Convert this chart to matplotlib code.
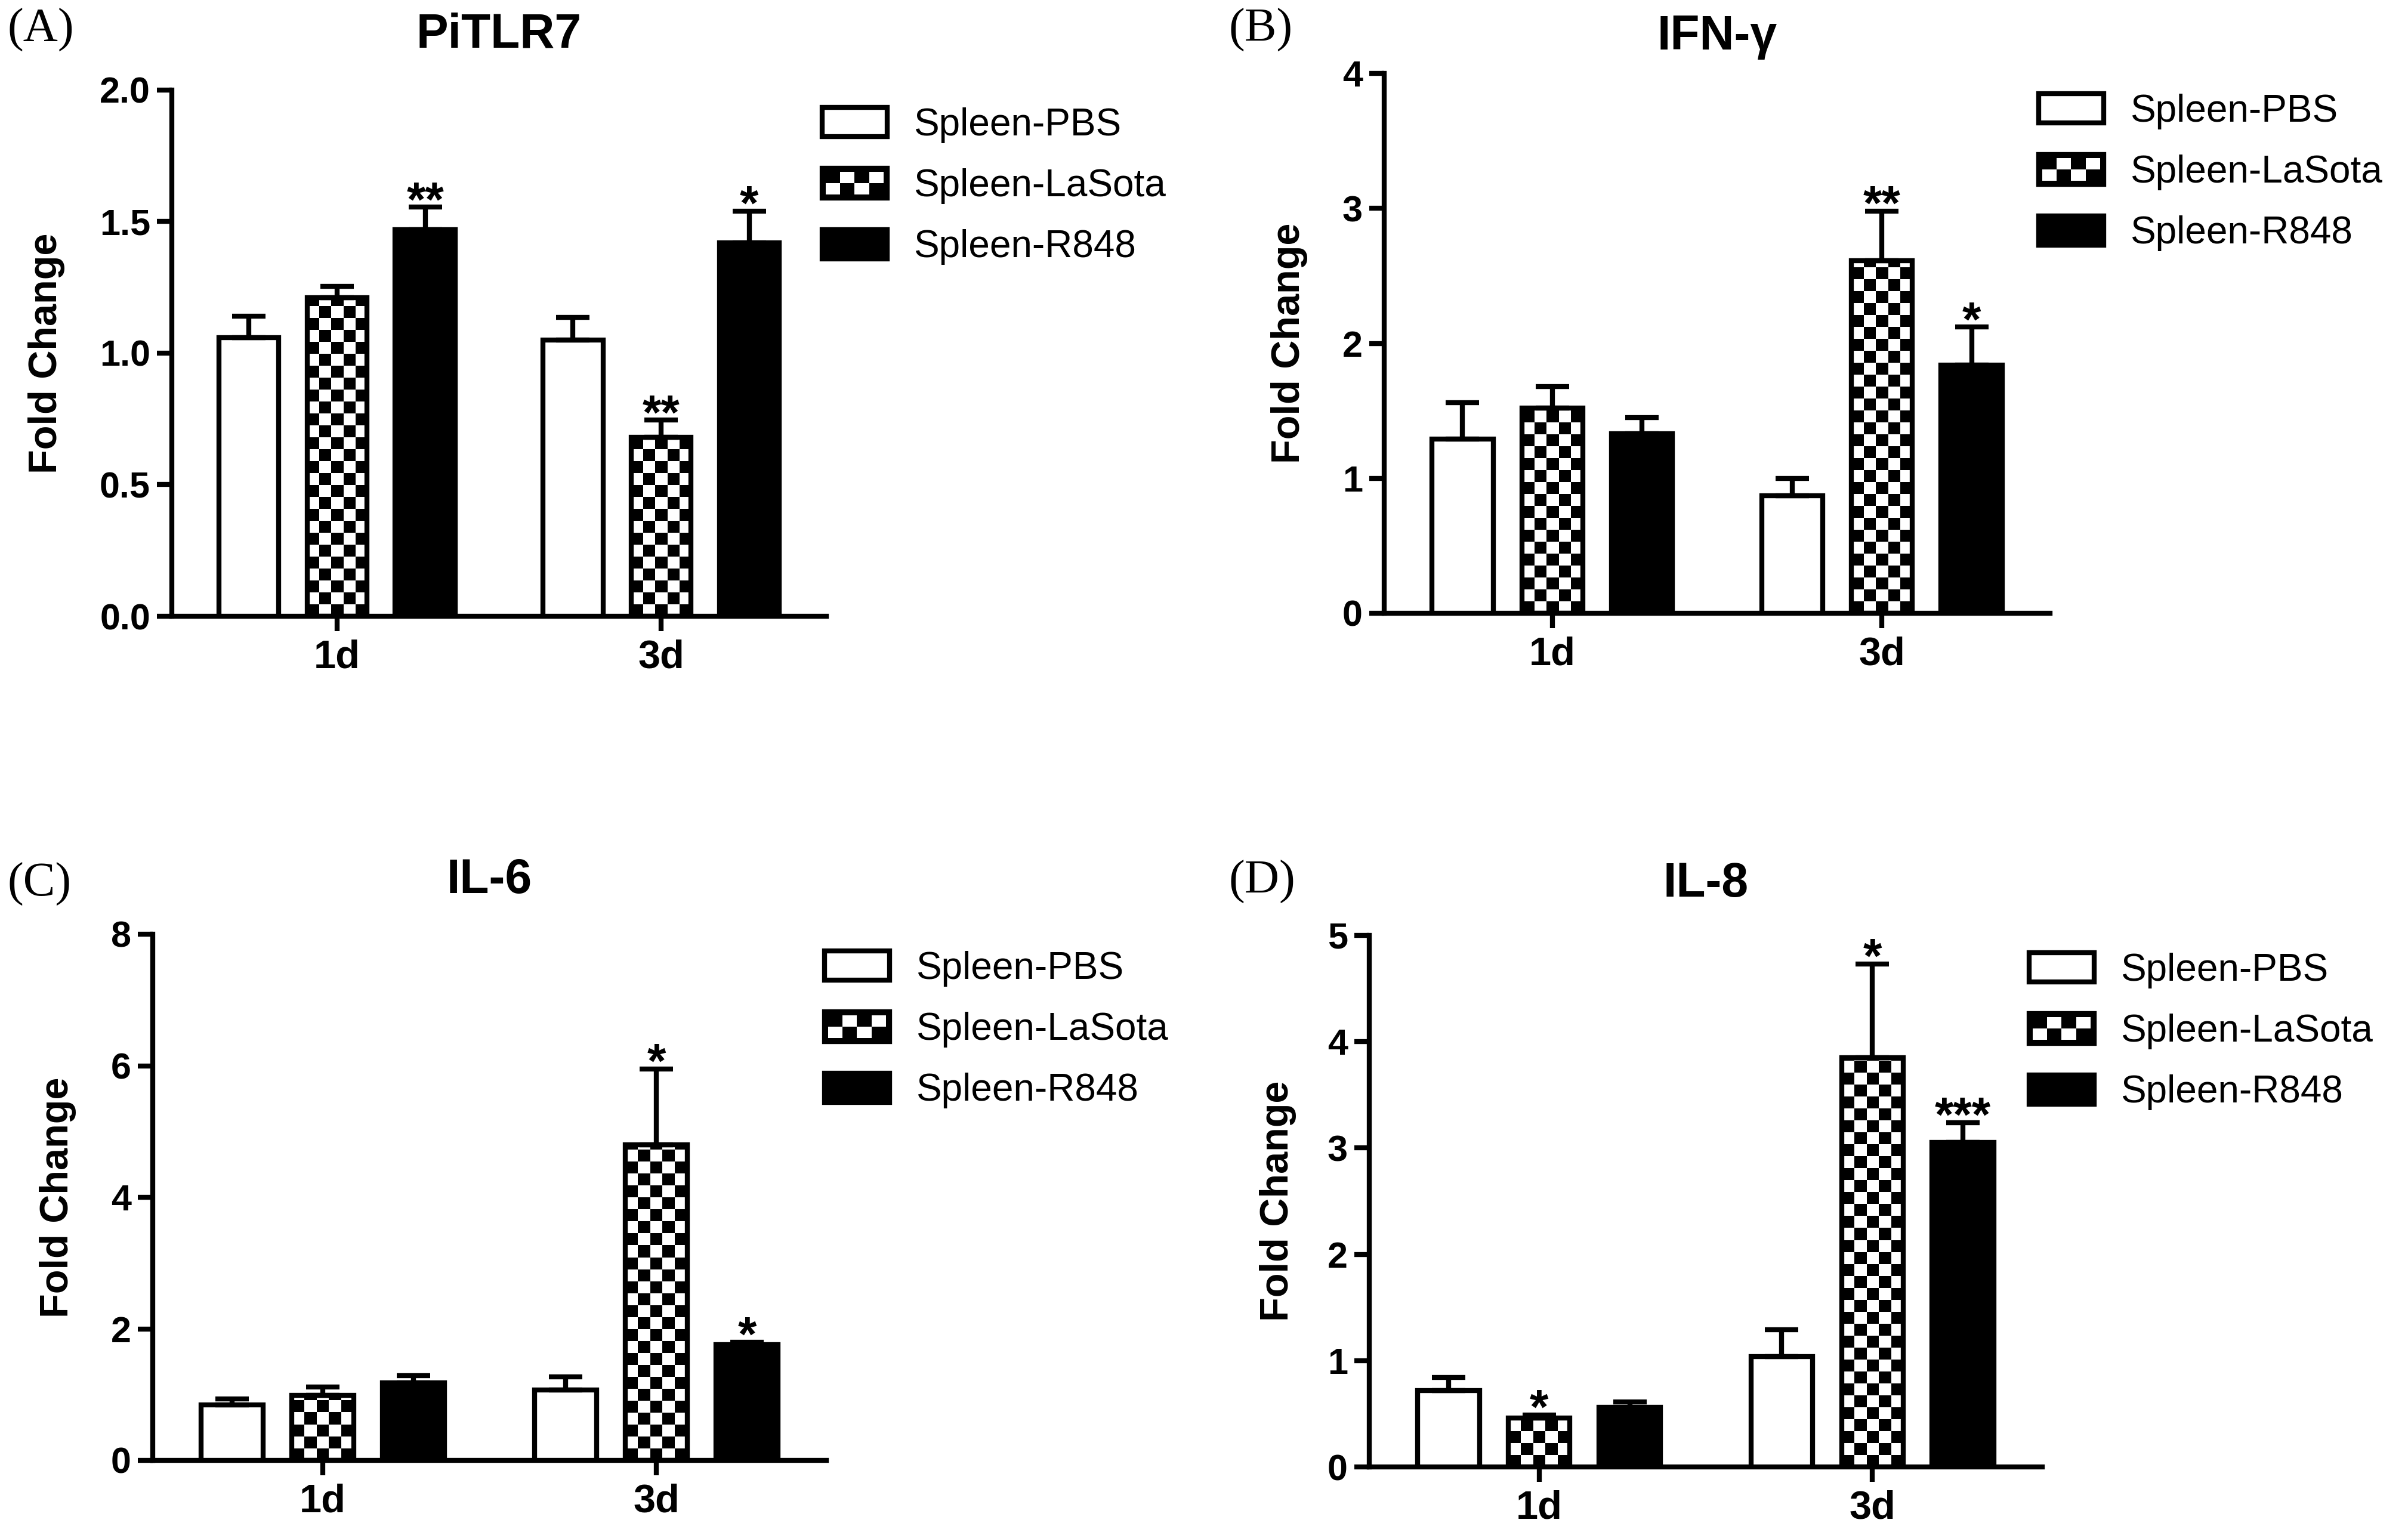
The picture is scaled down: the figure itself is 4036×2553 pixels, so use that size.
import numpy as np
import matplotlib
matplotlib.use("Agg")
import matplotlib.pyplot as plt
from matplotlib.patches import Patch, Rectangle
from matplotlib.legend_handler import HandlerBase

plt.rcParams['font.family'] = ['Liberation Sans', 'DejaVu Sans']

W, H = 4037, 2553
DPI = 200

# ---------------- data ----------------
groups = ["1d", "3d"]
series = ["Spleen-PBS", "Spleen-LaSota", "Spleen-R848"]

# (A) PiTLR7
tlr7_pbs = [1.06, 1.05]
tlr7_lasota = [1.21, 0.68]
tlr7_r848 = [1.47, 1.42]
tlr7_pbs_err = [0.08, 0.085]
tlr7_lasota_err = [0.045, 0.065]
tlr7_r848_err = [0.085, 0.12]
tlr7_stars = [["", ""], ["", "**"], ["**", "*"]]

# (B) IFN-γ
ifng_pbs = [1.29, 0.87]
ifng_lasota = [1.52, 2.61]
ifng_r848 = [1.33, 1.84]
ifng_pbs_err = [0.27, 0.13]
ifng_lasota_err = [0.16, 0.37]
ifng_r848_err = [0.12, 0.28]
ifng_stars = [["", ""], ["", "**"], ["", "*"]]

# (C) IL-6
il6_pbs = [0.84, 1.07]
il6_lasota = [0.99, 4.80]
il6_r848 = [1.18, 1.76]
il6_pbs_err = [0.09, 0.20]
il6_lasota_err = [0.13, 1.15]
il6_r848_err = [0.11, 0.04]
il6_stars = [["", ""], ["", "*"], ["", "*"]]

# (D) IL-8
il8_pbs = [0.72, 1.04]
il8_lasota = [0.46, 3.85]
il8_r848 = [0.56, 3.05]
il8_pbs_err = [0.12, 0.25]
il8_lasota_err = [0.03, 0.88]
il8_r848_err = [0.05, 0.19]
il8_stars = [["", ""], ["*", "*"], ["", "***"]]

panels = [
    dict(letter="(A)", title="PiTLR7", means=[tlr7_pbs, tlr7_lasota, tlr7_r848],
         errs=[tlr7_pbs_err, tlr7_lasota_err, tlr7_r848_err], stars=tlr7_stars,
         yticks=[0.0, 0.5, 1.0, 1.5, 2.0], fmt="{:.1f}",
         box=(288, 1385, 151, 1033), gap=179, title_xy=(836, 58), letter_xy=(13, 50),
         leg=(1378, 180)),
    dict(letter="(B)", title="IFN-γ", means=[ifng_pbs, ifng_lasota, ifng_r848],
         errs=[ifng_pbs_err, ifng_lasota_err, ifng_r848_err], stars=ifng_stars,
         yticks=[0, 1, 2, 3, 4], fmt="{:.0f}",
         box=(2320, 3436, 123, 1028), gap=128, title_xy=(2878, 62), letter_xy=(2060, 50),
         leg=(3417, 157)),
    dict(letter="(C)", title="IL-6", means=[il6_pbs, il6_lasota, il6_r848],
         errs=[il6_pbs_err, il6_lasota_err, il6_r848_err], stars=il6_stars,
         yticks=[0, 2, 4, 6, 8], fmt="{:.0f}",
         box=(256, 1385, 1566, 2448), gap=128, title_xy=(820, 1476), letter_xy=(13, 1482),
         leg=(1382, 1594)),
    dict(letter="(D)", title="IL-8", means=[il8_pbs, il8_lasota, il8_r848],
         errs=[il8_pbs_err, il8_lasota_err, il8_r848_err], stars=il8_stars,
         yticks=[0, 1, 2, 3, 4, 5], fmt="{:.0f}",
         box=(2295, 3423, 1568, 2459), gap=122, title_xy=(2859, 1482), letter_xy=(2060, 1478),
         leg=(3401, 1597)),
]

offsets = [-0.272, 0.0, 0.272]
bar_w = 0.185
LW = 3
CELL = 20  # checker cell size in pixels


class CheckerHandler(HandlerBase):
    def create_artists(self, legend, orig_handle, xdescent, ydescent,
                       width, height, fontsize, trans):
        x0, y0 = -xdescent, -ydescent
        arts = [Rectangle((x0, y0), width, height, facecolor="black",
                          edgecolor="black", lw=LW, transform=trans)]
        nx, ny = 4, 2
        pad = height * 0.12
        cw = (width - 2 * pad) / nx
        ch = (height - 2 * pad) / ny
        for i in range(nx):
            for j in range(ny):
                if (i + j) % 2 == 0:
                    arts.append(Rectangle((x0 + pad + i * cw, y0 + pad + j * ch), cw, ch,
                                          facecolor="white", edgecolor="none",
                                          transform=trans))
        return arts


fig = plt.figure(figsize=(W / DPI, H / DPI), dpi=DPI)
x = np.arange(len(groups))

for p in panels:
    l, r, t, b = p["box"]
    ax = fig.add_axes([l / W, 1 - b / H, (r - l) / W, (b - t) / H])
    ymax = p["yticks"][-1]
    ax.set_xlim(-0.51, 1.51)
    ax.set_ylim(0, ymax)
    ppu_y = (b - t) / ymax

    for k, name in enumerate(series):
        xs = x + offsets[k]
        vals = np.array(p["means"][k])
        errs = np.array(p["errs"][k])
        if k == 0:
            ax.bar(xs, vals, bar_w, facecolor="white", edgecolor="black", lw=LW, zorder=3)
        elif k == 2:
            ax.bar(xs, vals, bar_w, facecolor="black", edgecolor="black", lw=LW, zorder=3)
        else:
            bars = ax.bar(xs, vals, bar_w, facecolor="none", edgecolor="black", lw=LW, zorder=3)
            for bar, xc, v in zip(bars, xs, vals):
                ny = max(1, int(np.ceil(v * ppu_y / CELL)))
                img = np.indices((ny, 5)).sum(0) % 2
                im = ax.imshow(img, cmap="gray", vmin=0, vmax=1, origin="lower",
                               extent=(xc - bar_w / 2, xc + bar_w / 2, 0, ny * CELL / ppu_y),
                               interpolation="nearest", aspect="auto", zorder=2)
                im.set_clip_path(bar)
        ax.errorbar(xs, vals, yerr=[np.zeros_like(errs), errs], fmt="none",
                    ecolor="black", elinewidth=LW, capsize=10, capthick=LW, zorder=4)
        for xi, top, s in zip(xs, vals + errs, p["stars"][k]):
            if s:
                ax.annotate(s, (xi, top), xytext=(0, -5), textcoords="offset points",
                            ha="center", va="baseline", fontsize=29, fontweight="bold",
                            zorder=5)

    ax.set_xlim(-0.51, 1.51)
    ax.set_ylim(0, ymax)
    ax.set_xticks(x)
    ax.set_xticklabels(groups, fontsize=24, fontweight="bold")
    ax.set_yticks(p["yticks"])
    ax.set_yticklabels([p["fmt"].format(v) for v in p["yticks"]], fontsize=22, fontweight="bold")
    ax.tick_params(direction="out", length=9, width=LW)
    ax.tick_params(axis="x", pad=5)
    ax.tick_params(axis="y", pad=4)
    for side in ["top", "right"]:
        ax.spines[side].set_visible(False)
    for side in ["left", "bottom"]:
        ax.spines[side].set_linewidth(LW)
    ax.set_ylabel("Fold Change", fontsize=24, fontweight="bold")
    ax.yaxis.set_label_coords(-p["gap"] / (r - l), 0.5)

    handles = [Patch(facecolor="white", edgecolor="black", lw=LW),
               Patch(facecolor="black"),
               Patch(facecolor="black", edgecolor="black", lw=LW)]
    lx, ly = p["leg"]
    ax.legend(handles, series, handler_map={handles[1]: CheckerHandler()},
              loc="upper left", bbox_to_anchor=(lx / W, 1 - ly / H),
              bbox_transform=fig.transFigure, frameon=False, fontsize=23,
              borderpad=0, borderaxespad=0, handlelength=1.7, handleheight=0.81,
              handletextpad=0.7, labelspacing=0.66)

    fig.text(p["title_xy"][0] / W, 1 - p["title_xy"][1] / H, p["title"],
             ha="center", va="center", fontsize=29, fontweight="bold")
    fig.text(p["letter_xy"][0] / W, 1 - p["letter_xy"][1] / H, p["letter"],
             ha="left", va="center", fontsize=29, family=["Liberation Serif", "DejaVu Serif"])

fig.savefig("out.png", dpi=DPI, facecolor="white")
